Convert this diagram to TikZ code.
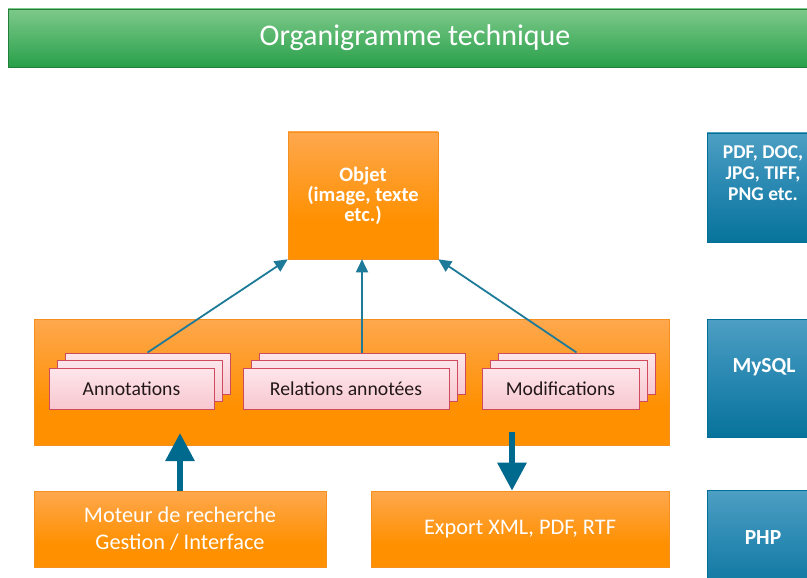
\documentclass[tikz,border=0pt]{standalone}
\usepackage{fontspec}
\setmainfont{Carlito}
\usetikzlibrary{arrows.meta}
\definecolor{orD}{HTML}{FF9000}
\definecolor{orL}{HTML}{FDB885}
\definecolor{orE}{HTML}{F5901F}
\definecolor{grD}{HTML}{28A04A}
\definecolor{grL}{HTML}{A8DDAA}
\definecolor{blD}{HTML}{006F97}
\definecolor{blM}{HTML}{2F8CB5}
\definecolor{blL}{HTML}{74B6D5}
\definecolor{pkT}{HTML}{FDE6EA}
\definecolor{pkB}{HTML}{F8C7D0}
\definecolor{pkE}{HTML}{CF4A5C}
\definecolor{arr}{HTML}{1D7A99}
\definecolor{arrD}{HTML}{006A8E}
\definecolor{txt}{HTML}{221818}
\pgfdeclareverticalshading{orshade}{100bp}{color(0bp)=(orD); color(40bp)=(orD); color(100bp)=(orL)}
\pgfdeclareverticalshading{grshade}{100bp}{color(0bp)=(grD); color(25bp)=(grD); color(100bp)=(grL)}
\pgfdeclareverticalshading{blshade}{100bp}{color(0bp)=(blD); color(20bp)=(blD); color(55bp)=(blM); color(100bp)=(blL)}
\begin{document}
\begin{tikzpicture}[x=1pt,y=-1pt,
  obox/.style={draw=orE, line width=0.6pt, shading=orshade, inner sep=0pt, align=center, text=white},
  bbox/.style={draw=blD, line width=0.6pt, shading=blshade, inner sep=0pt},
  btxt/.style={text=white, align=center, font=\bfseries\fontsize{19.5}{21}\selectfont},
  bigbtxt/.style={btxt, font=\bfseries\fontsize{21.5}{24}\selectfont},
  card/.style={draw=pkE, line width=1pt, top color=pkT, bottom color=pkB, minimum height=41pt, inner sep=0pt, text=txt, font=\fontsize{19.7}{22}\selectfont},
  thin arrow/.style={draw=arr, line width=1.8pt, -{Triangle[length=13pt,width=12pt]}},
  thick arrow/.style={draw=arrD, line width=6pt, -{Triangle[length=28pt,width=28pt]}}
]
\useasboundingbox (0,0) rectangle (807,578);
% title
\node[draw=grD!80!black, line width=0.4pt, shading=grshade, minimum width=814pt, minimum height=58pt, inner sep=0pt,
  text=white, font=\fontsize{30}{34}\selectfont] (title) at (415,38) {Organigramme technique};
% Objet
\node[obox, minimum width=150pt, minimum height=127pt, font=\bfseries\fontsize{20.5}{20}\selectfont] (obj) at (363,195.5)
  {Objet\\(image, texte\\etc.)};
% big box
\node[obox, minimum width=635pt, minimum height=126pt] (big) at (351.5,382) {};
% cards
\node[card, minimum width=165pt] (annB) at (147.5,373.5) {};
\node[card, minimum width=165pt] (annM) at (139.5,381) {};
\node[card, minimum width=165pt] (ann) at (131.5,388.5) {Annotations};
\node[card, minimum width=206pt] (relB) at (362,373.5) {};
\node[card, minimum width=206pt] (relM) at (354,381) {};
\node[card, minimum width=206pt] (rel) at (346,388.5) {Relations annotées};
\node[card, minimum width=157pt] (modB) at (576.5,373.5) {};
\node[card, minimum width=157pt] (modM) at (568.5,381) {};
\node[card, minimum width=157pt] (mod) at (560.5,388.5) {Modifications};
% bottom boxes
\node[obox, minimum width=292pt, minimum height=76pt, font=\fontsize{22.3}{27}\selectfont] (mot) at (180,529)
  {Moteur de recherche\\Gestion / Interface};
\node[obox, minimum width=298pt, minimum height=76pt, font=\fontsize{22.3}{27}\selectfont] (exp) at (520,529)
  {Export XML, PDF, RTF};
% blue boxes
\node[bbox, minimum width=112pt, minimum height=109pt] (fmt) at (763,187.5) {};
\node[btxt] (fmtT) at (763,173) {PDF, DOC,\\JPG, TIFF,\\PNG etc.};
\node[bbox, minimum width=112pt, minimum height=118pt] (sql) at (763,378) {};
\node[bigbtxt] (sqlT) at (764,367) {MySQL};
\node[bbox, minimum width=112pt, minimum height=110pt] (php) at (763,545) {};
\node[bigbtxt] (phpT) at (763,538) {PHP};
% thin arrows
\draw[thin arrow] (annB.north) -- (obj.south west);
\draw[thin arrow] (relB.north) -- (relB.north |- obj.south);
\draw[thin arrow] (modB.north) -- (obj.south east);
% thick arrows
\coordinate (uptip) at (180,433);
\coordinate (dnstart) at (512,432);
\draw[thick arrow] (mot.north) -- (uptip);
\draw[thick arrow] (dnstart) -- (dnstart |- exp.north);
\end{tikzpicture}
\end{document}
